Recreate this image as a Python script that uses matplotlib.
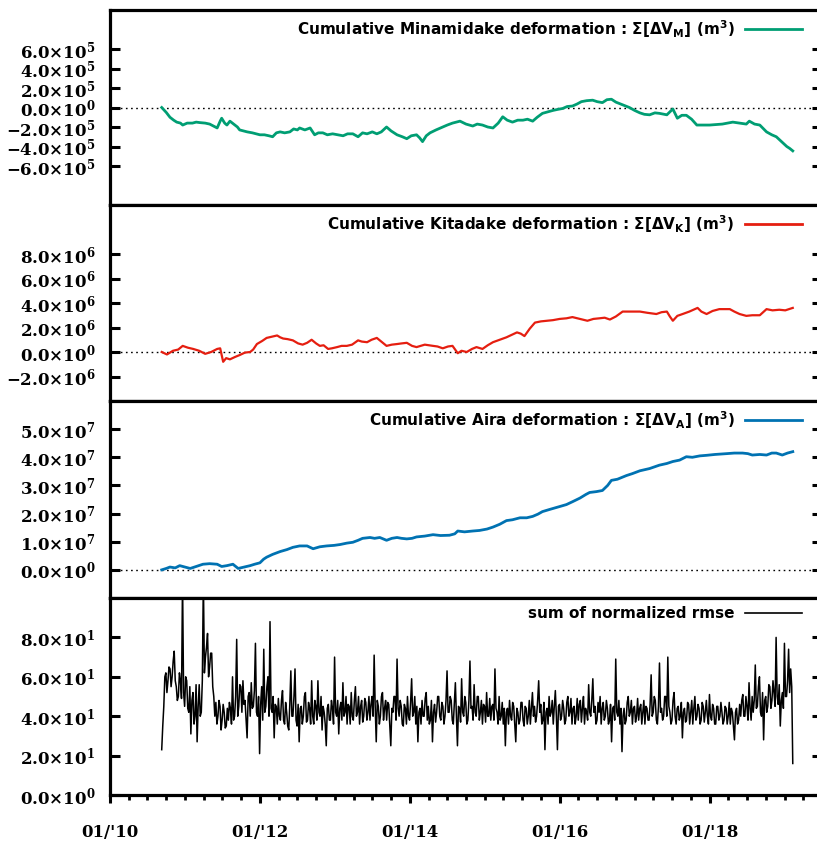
import numpy as np
import matplotlib
matplotlib.use("Agg")
import matplotlib.pyplot as plt
from matplotlib.font_manager import FontProperties
from matplotlib.lines import Line2D

plt.rcParams["font.family"] = "DejaVu Serif"
plt.rcParams["font.weight"] = "bold"
plt.rcParams["mathtext.fontset"] = "dejavuserif"
plt.rcParams["mathtext.default"] = "bf"

# ---------------- data (time in decimal years) ----------------
t_minami = [2010.69, 2010.75, 2010.80, 2010.85, 2010.89, 2010.94, 2010.97, 2011.03, 2011.10, 2011.15,
            2011.20, 2011.27, 2011.33, 2011.38, 2011.43, 2011.47, 2011.49, 2011.53, 2011.56, 2011.60,
            2011.65, 2011.70, 2011.73, 2011.78, 2011.83, 2011.90, 2011.95, 2012.00, 2012.06, 2012.12,
            2012.17, 2012.22, 2012.27, 2012.33, 2012.40, 2012.45, 2012.50, 2012.53, 2012.60, 2012.67,
            2012.73, 2012.78, 2012.84, 2012.90, 2012.97, 2013.04, 2013.11, 2013.17, 2013.24, 2013.31,
            2013.37, 2013.43, 2013.50, 2013.56, 2013.62, 2013.69, 2013.75, 2013.83, 2013.90, 2013.96,
            2014.02, 2014.09, 2014.13, 2014.17, 2014.22, 2014.27, 2014.35, 2014.44, 2014.50, 2014.57,
            2014.62, 2014.67, 2014.75, 2014.84, 2014.90, 2014.97, 2015.04, 2015.11, 2015.18, 2015.24,
            2015.30, 2015.37, 2015.44, 2015.51, 2015.57, 2015.64, 2015.70, 2015.77, 2015.84, 2015.91,
            2015.97, 2016.04, 2016.10, 2016.17, 2016.23, 2016.29, 2016.36, 2016.44, 2016.50, 2016.57,
            2016.63, 2016.69, 2016.75, 2016.80, 2016.87, 2016.93, 2017.00, 2017.07, 2017.13, 2017.20,
            2017.27, 2017.33, 2017.43, 2017.51, 2017.57, 2017.63, 2017.69, 2017.76, 2017.83, 2017.92,
            2018.00, 2018.08, 2018.17, 2018.24, 2018.31, 2018.40, 2018.49, 2018.53, 2018.60, 2018.67,
            2018.76, 2018.83, 2018.89, 2018.96, 2019.03, 2019.07, 2019.11]
v_minami = [0.0, -0.5, -1.0, -1.3, -1.5, -1.6, -1.8, -1.6, -1.6, -1.5,
            -1.55, -1.6, -1.7, -1.9, -2.1, -1.4, -1.1, -1.6, -1.8, -1.4,
            -1.7, -2.0, -2.3, -2.4, -2.5, -2.6, -2.7, -2.8, -2.8, -2.9,
            -3.0, -2.6, -2.5, -2.6, -2.5, -2.2, -2.3, -2.1, -2.3, -2.1,
            -2.8, -2.6, -2.6, -2.8, -2.7, -2.8, -2.9, -2.7, -2.7, -3.0,
            -2.6, -2.7, -2.5, -2.7, -2.5, -2.0, -2.4, -2.8, -3.0, -3.2,
            -2.9, -2.8, -3.1, -3.5, -2.9, -2.6, -2.3, -2.0, -1.8, -1.6,
            -1.5, -1.4, -1.7, -1.9, -1.7, -1.8, -2.0, -2.1, -1.6, -0.95,
            -1.3, -1.5, -1.3, -1.3, -1.2, -1.4, -1.0, -0.6, -0.45, -0.3,
            -0.2, -0.1, 0.1, 0.15, 0.35, 0.6, 0.7, 0.75, 0.6, 0.5,
            0.8, 0.85, 0.55, 0.4, 0.2, 0.0, -0.3, -0.55, -0.7, -0.75,
            -0.55, -0.6, -0.75, -0.15, -1.1, -0.8, -0.8, -1.2, -1.8, -1.8,
            -1.8, -1.75, -1.7, -1.6, -1.5, -1.6, -1.7, -1.4, -1.7, -1.8,
            -2.5, -2.8, -3.0, -3.5, -4.0, -4.2, -4.45]  # x 1e5 m^3

t_kita = [2010.69, 2010.76, 2010.84, 2010.91, 2010.97, 2011.04, 2011.11, 2011.19, 2011.27, 2011.35,
          2011.43, 2011.47, 2011.51, 2011.55, 2011.60, 2011.67, 2011.73, 2011.80, 2011.87, 2011.91,
          2011.96, 2012.03, 2012.09, 2012.16, 2012.23, 2012.27, 2012.31, 2012.37, 2012.44, 2012.51,
          2012.57, 2012.63, 2012.69, 2012.75, 2012.80, 2012.85, 2012.91, 2012.96, 2013.03, 2013.09,
          2013.16, 2013.23, 2013.31, 2013.36, 2013.43, 2013.49, 2013.56, 2013.63, 2013.69, 2013.76,
          2013.83, 2013.89, 2013.96, 2014.03, 2014.09, 2014.20, 2014.31, 2014.37, 2014.44, 2014.51,
          2014.57, 2014.64, 2014.69, 2014.76, 2014.83, 2014.89, 2014.97, 2015.04, 2015.11, 2015.20,
          2015.29, 2015.36, 2015.43, 2015.48, 2015.53, 2015.60, 2015.67, 2015.75, 2015.83, 2015.91,
          2016.00, 2016.09, 2016.17, 2016.27, 2016.37, 2016.45, 2016.53, 2016.60, 2016.67, 2016.75,
          2016.84, 2016.93, 2017.07, 2017.17, 2017.29, 2017.36, 2017.43, 2017.47, 2017.51, 2017.57,
          2017.64, 2017.73, 2017.84, 2017.89, 2017.96, 2018.04, 2018.13, 2018.27, 2018.33, 2018.40,
          2018.49, 2018.57, 2018.67, 2018.76, 2018.84, 2018.93, 2019.01, 2019.11]
v_kita = [0.0, -0.2, 0.1, 0.2, 0.5, 0.35, 0.25, 0.1, -0.15, 0.0,
          0.25, 0.3, -0.8, -0.5, -0.6, -0.4, -0.25, -0.05, 0.0, 0.2,
          0.65, 0.9, 1.15, 1.25, 1.35, 1.2, 1.1, 1.05, 0.95, 0.7,
          0.6, 0.75, 1.0, 0.7, 0.5, 0.55, 0.25, 0.3, 0.4, 0.5,
          0.5, 0.6, 0.95, 0.85, 0.8, 1.0, 1.15, 0.8, 0.5, 0.6,
          0.65, 0.7, 0.75, 0.5, 0.4, 0.6, 0.5, 0.45, 0.3, 0.45,
          0.5, -0.1, 0.1, 0.0, 0.25, 0.4, 0.25, 0.55, 0.8, 1.0,
          1.2, 1.4, 1.6, 1.5, 1.3, 1.9, 2.4, 2.5, 2.55, 2.6,
          2.7, 2.75, 2.85, 2.7, 2.55, 2.7, 2.75, 2.8, 2.65, 2.9,
          3.3, 3.3, 3.3, 3.2, 3.1, 3.25, 3.3, 2.9, 2.55, 2.95,
          3.1, 3.3, 3.6, 3.3, 3.1, 3.35, 3.5, 3.5, 3.3, 3.1,
          2.95, 3.0, 3.0, 3.5, 3.4, 3.45, 3.4, 3.6]  # x 1e6 m^3

t_aira = [2010.69, 2010.75, 2010.80, 2010.87, 2010.93, 2011.00, 2011.07, 2011.15, 2011.24, 2011.33,
          2011.43, 2011.49, 2011.56, 2011.64, 2011.71, 2011.79, 2011.87, 2011.93, 2012.00, 2012.05,
          2012.09, 2012.17, 2012.27, 2012.36, 2012.44, 2012.53, 2012.63, 2012.71, 2012.80, 2012.89,
          2012.99, 2013.07, 2013.16, 2013.24, 2013.31, 2013.37, 2013.47, 2013.53, 2013.60, 2013.69,
          2013.76, 2013.83, 2013.89, 2013.96, 2014.03, 2014.09, 2014.20, 2014.31, 2014.41, 2014.53,
          2014.60, 2014.64, 2014.73, 2014.84, 2014.93, 2015.03, 2015.11, 2015.20, 2015.29, 2015.37,
          2015.47, 2015.56, 2015.64, 2015.71, 2015.77, 2015.87, 2016.00, 2016.09, 2016.17, 2016.27,
          2016.35, 2016.40, 2016.49, 2016.57, 2016.64, 2016.69, 2016.77, 2016.89, 2016.97, 2017.07,
          2017.20, 2017.33, 2017.43, 2017.51, 2017.60, 2017.69, 2017.77, 2017.87, 2017.96, 2018.07,
          2018.23, 2018.33, 2018.44, 2018.51, 2018.57, 2018.67, 2018.76, 2018.83, 2018.89, 2018.97,
          2019.04, 2019.11]
v_aira = [0.0, 0.05, 0.1, 0.07, 0.15, 0.1, 0.05, 0.12, 0.2, 0.22,
          0.2, 0.12, 0.15, 0.2, 0.05, 0.1, 0.15, 0.2, 0.25, 0.38,
          0.45, 0.55, 0.65, 0.72, 0.8, 0.85, 0.85, 0.75, 0.82, 0.85,
          0.87, 0.9, 0.95, 0.98, 1.05, 1.12, 1.15, 1.12, 1.15, 1.05,
          1.12, 1.15, 1.12, 1.1, 1.12, 1.17, 1.2, 1.25, 1.22, 1.23,
          1.28, 1.38, 1.35, 1.38, 1.4, 1.45, 1.52, 1.62, 1.75, 1.78,
          1.85, 1.85, 1.9, 1.98, 2.07, 2.15, 2.25, 2.32, 2.42, 2.55,
          2.68, 2.75, 2.78, 2.82, 3.0, 3.18, 3.22, 3.35, 3.42, 3.52,
          3.6, 3.72, 3.78, 3.85, 3.9, 4.02, 4.0, 4.05, 4.07, 4.1,
          4.13, 4.15, 4.15, 4.13, 4.08, 4.1, 4.08, 4.15, 4.15, 4.08,
          4.15, 4.2]  # x 1e7 m^3

# sum of normalized rmse, sampled about every 5 days from 2010.69 to 2019.11
rmse = [23, 35, 45, 60, 62, 52, 58, 65, 64, 55, 60, 68, 73, 58, 55, 48, 50, 62,
        58, 49, 110, 52, 45, 60, 58, 44, 42, 55, 31, 48, 52, 36, 40, 56, 27, 45,
        56, 40, 42, 58, 110, 62, 70, 75, 82, 60, 65, 72, 72, 55, 50, 40, 47, 36,
        40, 48, 45, 33, 38, 46, 42, 34, 35, 44, 38, 47, 44, 36, 60, 38, 40, 50,
        79, 40, 45, 56, 55, 42, 58, 46, 48, 38, 29, 50, 52, 40, 57, 44, 45, 53,
        77, 42, 40, 50, 21, 46, 55, 38, 74, 42, 45, 55, 60, 40, 88, 44, 42, 50,
        29, 46, 45, 36, 49, 40, 38, 48, 53, 38, 36, 47, 42, 35, 33, 46, 63, 40,
        40, 50, 64, 38, 35, 46, 27, 44, 45, 36, 40, 50, 52, 37, 38, 47, 44, 36,
        58, 40, 36, 48, 45, 38, 58, 42, 40, 50, 33, 45, 42, 36, 25, 44, 46, 38,
        38, 48, 44, 36, 70, 42, 40, 48, 31, 44, 47, 38, 57, 40, 42, 50, 36, 46,
        45, 36, 52, 40, 38, 48, 55, 40, 42, 50, 36, 45, 48, 37, 40, 49, 47, 38,
        42, 50, 38, 46, 50, 40, 71, 45, 27, 48, 45, 36, 40, 50, 52, 38, 44, 48,
        38, 47, 46, 36, 25, 44, 42, 50, 50, 38, 69, 44, 40, 48, 45, 36, 35, 46,
        44, 36, 50, 40, 38, 47, 59, 40, 42, 50, 36, 45, 27, 42, 44, 36, 48, 40,
        40, 49, 52, 38, 45, 36, 38, 48, 27, 42, 46, 37, 42, 50, 50, 40, 38, 47,
        45, 36, 40, 48, 63, 42, 42, 50, 48, 38, 36, 46, 57, 40, 25, 45, 44, 37,
        59, 42, 40, 50, 47, 36, 38, 48, 68, 44, 45, 38, 56, 42, 40, 50, 50, 38,
        42, 48, 36, 46, 45, 37, 52, 40, 40, 49, 38, 45, 46, 38, 64, 44, 42, 36,
        50, 38, 40, 47, 36, 44, 25, 42, 44, 36, 48, 40, 38, 47, 45, 36, 27, 44,
        42, 36, 38, 47, 47, 38, 35, 45, 44, 36, 40, 48, 36, 44, 52, 40, 45, 37,
        40, 48, 58, 42, 46, 36, 38, 47, 23, 42, 44, 36, 50, 40, 42, 48, 36, 45,
        53, 40, 23, 45, 46, 38, 40, 48, 44, 36, 38, 47, 50, 40, 42, 49, 36, 44,
        45, 36, 40, 49, 38, 46, 48, 37, 44, 50, 36, 44, 42, 38, 56, 42, 40, 48,
        59, 42, 45, 36, 38, 47, 42, 50, 36, 44, 47, 38, 40, 48, 44, 36, 38, 46,
        27, 44, 45, 38, 69, 42, 40, 48, 36, 44, 22, 40, 44, 36, 38, 47, 50, 40,
        42, 48, 36, 44, 45, 37, 40, 49, 38, 44, 46, 36, 42, 48, 36, 45, 44, 38,
        38, 46, 61, 40, 42, 50, 48, 38, 36, 45, 67, 42, 44, 38, 40, 50, 50, 40,
        70, 45, 42, 36, 38, 48, 52, 40, 36, 44, 45, 38, 40, 47, 29, 42, 44, 37,
        38, 47, 46, 36, 42, 48, 36, 44, 50, 38, 40, 46, 44, 36, 38, 47, 45, 37,
        42, 48, 40, 36, 51, 40, 38, 46, 44, 36, 36, 45, 45, 38, 40, 47, 42, 36,
        38, 45, 44, 36, 40, 47, 36, 44, 42, 35, 28, 42, 44, 36, 38, 46, 40, 48,
        51, 40, 40, 50, 45, 38, 57, 44, 38, 50, 42, 48, 66, 44, 45, 55, 60, 42,
        40, 52, 28, 48, 50, 42, 45, 56, 55, 44, 48, 58, 52, 45, 80, 50, 46, 56,
        35, 48, 52, 44, 77, 50, 50, 58, 74, 52, 64, 55, 16]
t_rmse = np.linspace(2010.69, 2019.11, len(rmse))

year_ticks = [2010, 2012, 2014, 2016, 2018]
year_labels = ["01/'10", "01/'12", "01/'14", "01/'16", "01/'18"]

yt_minami = [-6e5, -4e5, -2e5, 0, 2e5, 4e5, 6e5]
yl_minami = ["-6.0{\\times}10^{5}", "-4.0{\\times}10^{5}", "-2.0{\\times}10^{5}", "0.0{\\times}10^{0}",
             "2.0{\\times}10^{5}", "4.0{\\times}10^{5}", "6.0{\\times}10^{5}"]
yt_kita = [-2e6, 0, 2e6, 4e6, 6e6, 8e6]
yl_kita = ["-2.0{\\times}10^{6}", "0.0{\\times}10^{0}", "2.0{\\times}10^{6}", "4.0{\\times}10^{6}",
           "6.0{\\times}10^{6}", "8.0{\\times}10^{6}"]
yt_aira = [0, 1e7, 2e7, 3e7, 4e7, 5e7]
yl_aira = ["0.0{\\times}10^{0}", "1.0{\\times}10^{7}", "2.0{\\times}10^{7}", "3.0{\\times}10^{7}",
           "4.0{\\times}10^{7}", "5.0{\\times}10^{7}"]
yt_rmse = [0, 20, 40, 60, 80]
yl_rmse = ["0.0{\\times}10^{0}", "2.0{\\times}10^{1}", "4.0{\\times}10^{1}", "6.0{\\times}10^{1}",
           "8.0{\\times}10^{1}"]

# ---------------- figure ----------------
W, H = 817, 843
fig = plt.figure(figsize=(W / 100, H / 100), dpi=100)

TICK_SIZE = 12
leg_font = FontProperties(family="DejaVu Sans", weight="bold", size=11,
                          math_fontfamily="dejavusans")

x_left, x_right = 110, 822
panels = [(10, 205), (205, 401), (401, 598), (598, 795)]

series = [
    (np.array(t_minami), np.array(v_minami) * 1e5, "#009e73", 2.0, (-1e6, 1e6), yt_minami, yl_minami,
     r"Cumulative Minamidake deformation : Σ[ΔV$_\mathbf{M}$] (m$^\mathbf{3}$)"),
    (np.array(t_kita), np.array(v_kita) * 1e6, "#e51e10", 1.6, (-4e6, 12e6), yt_kita, yl_kita,
     r"Cumulative Kitadake deformation : Σ[ΔV$_\mathbf{K}$] (m$^\mathbf{3}$)"),
    (np.array(t_aira), np.array(v_aira) * 1e7, "#0072b2", 2.0, (-1e7, 6e7), yt_aira, yl_aira,
     r"Cumulative Aira deformation : Σ[ΔV$_\mathbf{A}$] (m$^\mathbf{3}$)"),
    (t_rmse, np.array(rmse, dtype=float), "black", 1.1, (0, 100), yt_rmse, yl_rmse,
     "sum of normalized rmse"),
]

for i, ((top, bot), (t, v, col, lw, ylim, yt, yl, lab)) in enumerate(zip(panels, series)):
    ax = fig.add_axes([x_left / W, 1 - bot / H, (x_right - x_left) / W, (bot - top) / H])
    ax.plot(t, v, color=col, lw=lw, label=lab)
    if i < 3:
        ax.axhline(0, color="black", lw=1.0, ls=(0, (1.2, 2.5)), zorder=0)
    ax.set_xlim(2010.0, 2019.5)
    ax.set_ylim(*ylim)
    for s in ax.spines.values():
        s.set_linewidth(2.3)
    ax.set_yticks(yt)
    ax.set_yticklabels(["$" + s + "$" for s in yl])
    ax.tick_params(axis="y", which="major", direction="in", length=7, width=2.2,
                   left=True, right=True, pad=10.5, labelsize=TICK_SIZE)
    if i == 3:
        ax.set_xticks(year_ticks)
        ax.set_xticklabels(year_labels)
        ax.set_xticks(np.arange(2010, 2019.51, 0.25), minor=True)
        ax.tick_params(axis="x", which="major", direction="out", length=6, width=2.2, pad=15,
                       bottom=True, top=False, labelsize=TICK_SIZE)
        ax.tick_params(axis="x", which="minor", direction="out", length=3.8, width=2.0,
                       bottom=True, top=False)
    else:
        ax.set_xticks([])
    handle = Line2D([], [], color=col, lw=2.0 if i != 3 else 1.2)
    ax.legend([handle], [lab], loc="upper right", bbox_to_anchor=((802 - x_left) / (x_right - x_left), 0.96),
              frameon=False, markerfirst=False, prop=leg_font, handlelength=3.7, handletextpad=0.7,
              borderpad=0, borderaxespad=0)

fig.savefig("out.png", dpi=100)
